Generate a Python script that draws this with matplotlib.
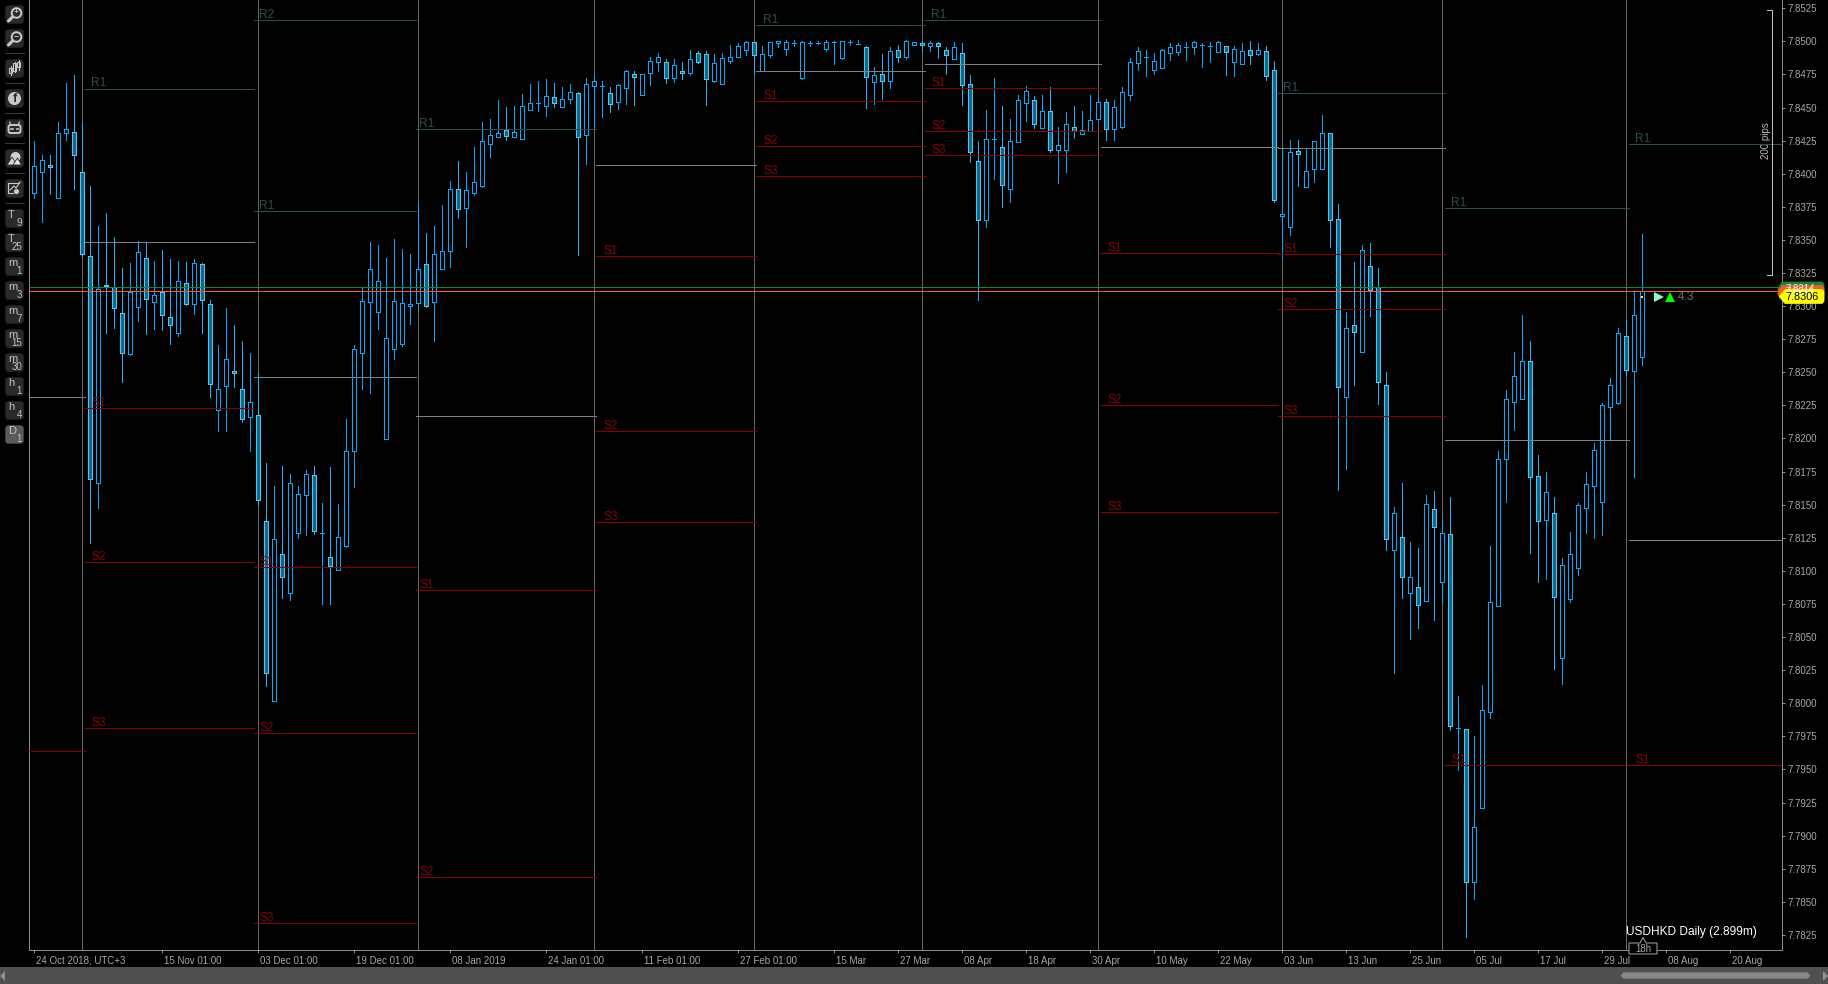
import matplotlib
matplotlib.use("Agg")
import matplotlib.pyplot as plt
from matplotlib.patches import Circle, FancyBboxPatch, Polygon, Rectangle
from matplotlib.transforms import ScaledTranslation

plt.rcParams["font.family"] = ["Liberation Sans", "DejaVu Sans"]

opens = [
    7.83852, 7.84010, 7.84063, 7.83813, 7.84305, 7.84318, 7.84015, 7.83381, 7.81661, 7.83162,
    7.83142, 7.82950, 7.82636, 7.82991, 7.83366, 7.83028, 7.83109, 7.82920, 7.82799, 7.83177,
    7.83014, 7.83321, 7.83019, 7.82213, 7.82394, 7.82512, 7.82376, 7.82160, 7.82180, 7.81380,
    7.80015, 7.81130, 7.80831, 7.81284, 7.81571, 7.81722, 7.81289, 7.81108, 7.81004, 7.81191,
    7.81903, 7.82648, 7.83028, 7.82953, 7.81994, 7.82678, 7.82716, 7.82998, 7.83021, 7.83321,
    7.83028, 7.83283, 7.83414, 7.83882, 7.83739, 7.83857, 7.83904, 7.84222, 7.84275, 7.84330,
    7.84275, 7.84260, 7.84479, 7.84532, 7.84509, 7.84582, 7.84501, 7.84562, 7.84612, 7.84290,
    7.84660, 7.84660, 7.84612, 7.84539, 7.84645, 7.84756, 7.84597, 7.84758, 7.84841, 7.84841,
    7.84720, 7.84773, 7.84758, 7.84909, 7.84902, 7.84698, 7.84675, 7.84849, 7.84879, 7.84932,
    7.84992, 7.84776, 7.84894, 7.84985, 7.84939, 7.84987, 7.84720, 7.84987, 7.84985, 7.84939,
    7.84992, 7.84871, 7.84992, 7.84982, 7.84955, 7.84695, 7.84751, 7.84698, 7.84932, 7.84879,
    7.84970, 7.84985, 7.84962, 7.84985, 7.84932, 7.84869, 7.84909, 7.84675, 7.84093, 7.83653,
    7.84260, 7.84199, 7.83882, 7.84242, 7.84532, 7.84554, 7.84348, 7.84471, 7.84182, 7.84182,
    7.84355, 7.84302, 7.84320, 7.84411, 7.84539, 7.84335, 7.84355, 7.84592, 7.84834, 7.84879,
    7.84781, 7.84801, 7.84909, 7.84922, 7.84955, 7.84955, 7.84972, 7.84962, 7.84922, 7.84962,
    7.84846, 7.84831, 7.84932, 7.84902, 7.84924, 7.84781, 7.83678, 7.83595, 7.84169, 7.83902,
    7.84033, 7.84038, 7.84305, 7.83655, 7.82316, 7.82855, 7.82656, 7.83300, 7.83142, 7.82402,
    7.81155, 7.81254, 7.80831, 7.80876, 7.80770, 7.81465, 7.80914, 7.81276, 7.79811, 7.79803,
    7.78653, 7.79212, 7.79932, 7.80738, 7.81843, 7.82278, 7.82301, 7.82583, 7.81714, 7.81382,
    7.81435, 7.80340, 7.80791, 7.81020, 7.81478, 7.81639, 7.81523, 7.82241, 7.82271, 7.82772,
    7.82512, 7.82618,
]
highs = [
    7.84247, 7.84141, 7.84141, 7.84388, 7.84682, 7.84745, 7.84381, 7.83907, 7.83605, 7.83701,
    7.83519, 7.83288, 7.83326, 7.83489, 7.83477, 7.83341, 7.83424, 7.83356, 7.83341, 7.83333,
    7.83356, 7.83323, 7.83046, 7.82706, 7.82986, 7.82857, 7.82737, 7.82646, 7.82492, 7.81815,
    7.81644, 7.81792, 7.81732, 7.81641, 7.81762, 7.81792, 7.81513, 7.81785, 7.81505, 7.82147,
    7.82706, 7.83142, 7.83482, 7.83459, 7.83363, 7.83507, 7.83431, 7.83394, 7.83786, 7.83552,
    7.83605, 7.83764, 7.83942, 7.84096, 7.84013, 7.84202, 7.84391, 7.84413, 7.84557, 7.84504,
    7.84511, 7.84602, 7.84678, 7.84700, 7.84715, 7.84685, 7.84655, 7.84678, 7.84615, 7.84723,
    7.84753, 7.84700, 7.84652, 7.84675, 7.84783, 7.84776, 7.84753, 7.84882, 7.84912, 7.84864,
    7.84864, 7.84844, 7.84934, 7.84924, 7.84924, 7.84904, 7.84912, 7.84970, 7.84987, 7.85000,
    7.84992, 7.84962, 7.84995, 7.85000, 7.85010, 7.85007, 7.85000, 7.85002, 7.85000, 7.85007,
    7.85000, 7.85000, 7.85010, 7.85007, 7.84962, 7.84806, 7.84904, 7.84955, 7.84970, 7.85007,
    7.84992, 7.85000, 7.85000, 7.84992, 7.84955, 7.84995, 7.84987, 7.84745, 7.84247, 7.84481,
    7.84723, 7.84511, 7.84413, 7.84595, 7.84662, 7.84584, 7.84595, 7.84655, 7.84353, 7.84466,
    7.84511, 7.84474, 7.84595, 7.84572, 7.84564, 7.84557, 7.84655, 7.84874, 7.84957, 7.84934,
    7.84912, 7.84939, 7.84987, 7.84987, 7.84992, 7.85000, 7.84987, 7.84992, 7.85000, 7.84962,
    7.84962, 7.84987, 7.85000, 7.84987, 7.84962, 7.84851, 7.84187, 7.84255, 7.84255, 7.84189,
    7.84245, 7.84443, 7.84305, 7.83771, 7.82956, 7.83333, 7.83462, 7.83477, 7.83288, 7.82502,
    7.81480, 7.81661, 7.81218, 7.81171, 7.81573, 7.81604, 7.81392, 7.81558, 7.80055, 7.79803,
    7.79753, 7.80138, 7.81188, 7.81903, 7.82367, 7.82651, 7.82930, 7.82737, 7.81873, 7.81745,
    7.81556, 7.81095, 7.81294, 7.81510, 7.81747, 7.81964, 7.82266, 7.82457, 7.82832, 7.82895,
    7.83114, 7.83545,
]
lows = [
    7.83819, 7.83637, 7.83849, 7.83813, 7.84257, 7.83887, 7.83368, 7.81214, 7.81478, 7.82799,
    7.82835, 7.82429, 7.82633, 7.82888, 7.82792, 7.82827, 7.82820, 7.82716, 7.82777, 7.83011,
    7.82943, 7.82799, 7.82316, 7.82059, 7.82059, 7.82391, 7.82127, 7.81908, 7.81500, 7.80133,
    7.80015, 7.80798, 7.80783, 7.81251, 7.81274, 7.81281, 7.80753, 7.80753, 7.81004, 7.81183,
    7.81636, 7.82374, 7.82346, 7.82827, 7.81994, 7.82603, 7.82701, 7.82865, 7.82971, 7.82996,
    7.82737, 7.83283, 7.83298, 7.83666, 7.83447, 7.83839, 7.83902, 7.84129, 7.84275, 7.84257,
    7.84275, 7.84260, 7.84479, 7.84474, 7.84436, 7.84506, 7.84501, 7.84537, 7.83386, 7.84076,
    7.84343, 7.84428, 7.84469, 7.84489, 7.84527, 7.84519, 7.84597, 7.84670, 7.84776, 7.84685,
    7.84695, 7.84715, 7.84745, 7.84836, 7.84519, 7.84695, 7.84675, 7.84834, 7.84879, 7.84897,
    7.84753, 7.84773, 7.84879, 7.84957, 7.84897, 7.84965, 7.84718, 7.84965, 7.84980, 7.84927,
    7.84829, 7.84864, 7.84970, 7.84980, 7.84499, 7.84529, 7.84564, 7.84647, 7.84844, 7.84864,
    7.84970, 7.84927, 7.84927, 7.84874, 7.84753, 7.84866, 7.84519, 7.84088, 7.83046, 7.83598,
    7.83960, 7.83749, 7.83786, 7.84242, 7.84398, 7.84345, 7.84348, 7.84167, 7.83930, 7.84013,
    7.84270, 7.84302, 7.84320, 7.84411, 7.84255, 7.84255, 7.84345, 7.84557, 7.84783, 7.84738,
    7.84753, 7.84798, 7.84859, 7.84897, 7.84859, 7.84904, 7.84806, 7.84844, 7.84922, 7.84745,
    7.84738, 7.84829, 7.84829, 7.84897, 7.84705, 7.83784, 7.83366, 7.83540, 7.83907, 7.83902,
    7.83940, 7.84038, 7.83449, 7.81611, 7.81770, 7.82404, 7.82656, 7.82925, 7.82261, 7.81158,
    7.80231, 7.80795, 7.80486, 7.80569, 7.80770, 7.80629, 7.80755, 7.79798, 7.79496, 7.78238,
    7.78522, 7.79212, 7.79892, 7.80738, 7.81523, 7.82064, 7.82301, 7.81138, 7.80919, 7.80941,
    7.80262, 7.80148, 7.80768, 7.80972, 7.81289, 7.81251, 7.81274, 7.81986, 7.82263, 7.82480,
    7.81712, 7.82558,
]
closes = [
    7.84061, 7.84106, 7.84048, 7.84310, 7.84340, 7.84139, 7.83391, 7.81691, 7.83132, 7.83154,
    7.82983, 7.82648, 7.83109, 7.83411, 7.83051, 7.83086, 7.82930, 7.82855, 7.83192, 7.83019,
    7.83328, 7.83044, 7.82409, 7.82376, 7.82603, 7.82492, 7.82145, 7.82278, 7.81533, 7.80226,
    7.81244, 7.80951, 7.81661, 7.81583, 7.81729, 7.81299, 7.81289, 7.81040, 7.81259, 7.81908,
    7.82678, 7.83041, 7.83283, 7.83192, 7.82762, 7.83041, 7.83026, 7.83014, 7.83283, 7.82998,
    7.83396, 7.83419, 7.83887, 7.83736, 7.83875, 7.83940, 7.84245, 7.84290, 7.84305, 7.84282,
    7.84313, 7.84509, 7.84537, 7.84532, 7.84589, 7.84532, 7.84567, 7.84620, 7.84275, 7.84675,
    7.84698, 7.84660, 7.84524, 7.84672, 7.84773, 7.84728, 7.84751, 7.84849, 7.84879, 7.84720,
    7.84819, 7.84758, 7.84864, 7.84846, 7.84713, 7.84834, 7.84871, 7.84879, 7.84962, 7.84992,
    7.84894, 7.84902, 7.84992, 7.85000, 7.84992, 7.84987, 7.84992, 7.84987, 7.84985, 7.84992,
    7.84992, 7.85000, 7.84992, 7.84982, 7.84728, 7.84743, 7.84698, 7.84929, 7.84879, 7.85000,
    7.84992, 7.84970, 7.84985, 7.84962, 7.84894, 7.84955, 7.84673, 7.84167, 7.83653, 7.84260,
    7.84260, 7.83912, 7.84245, 7.84554, 7.84622, 7.84378, 7.84471, 7.84182, 7.84219, 7.84373,
    7.84323, 7.84333, 7.84403, 7.84539, 7.84335, 7.84501, 7.84615, 7.84841, 7.84924, 7.84879,
    7.84849, 7.84932, 7.84955, 7.84970, 7.84955, 7.84992, 7.84972, 7.84962, 7.84992, 7.84922,
    7.84939, 7.84924, 7.84894, 7.84932, 7.84740, 7.83799, 7.83693, 7.84161, 7.84151, 7.84018,
    7.84245, 7.84305, 7.83653, 7.82391, 7.82832, 7.82807, 7.83421, 7.83122, 7.82429, 7.81244,
    7.81435, 7.80957, 7.80951, 7.80740, 7.81503, 7.81329, 7.81284, 7.79826, 7.79811, 7.78653,
    7.79068, 7.79952, 7.80768, 7.81843, 7.82296, 7.82470, 7.82583, 7.81712, 7.81380, 7.81593,
    7.80800, 7.81042, 7.81125, 7.81495, 7.81654, 7.81911, 7.82251, 7.82402, 7.82794, 7.82520,
    7.82930, 7.83114,
]

# pivot periods: bar position of each edge, then one value per period (None = no line drawn)
period_edges = [-0.63, 6.33, 27.46, 47.7, 70.2, 90.2, 111.3, 133.3, 155.5, 176.3, 199.3, 218.3]
label_bars = [None, 7, 28, 48, 71, 91, 112, 134, 156, 177, 200]
level_r2 = [None, None, 7.85158, None, None, None, None, None, None, None, None]
level_r1 = [None, 7.84642, 7.83716, 7.84335, None, 7.85121, 7.85158, None, 7.84607, 7.83738, 7.84222]
level_p = [7.82316, 7.83482, 7.82462, 7.82173, 7.84063, 7.84773, 7.84826, 7.84199, 7.84192, 7.81989, 7.81231]
level_s1 = [None, 7.82228, 7.81027, 7.80853, 7.83376, 7.84547, 7.84645, 7.83399, 7.83391, 7.79532, 7.79532]
level_s2 = [7.79637, 7.81065, 7.79773, 7.78686, 7.82054, 7.84207, 7.84320, 7.82251, 7.82976, None, None]
level_s3 = [None, 7.79811, 7.78339, None, 7.81367, 7.83980, 7.84139, 7.81442, 7.82168, None, None]
separator_bars = [6, 28, 48, 70, 90, 111, 133, 156, 176, 199]

ask_line = 7.83144
bid_line = 7.83114
last_price = 7.83071
pips_top = 7.85235
pips_bottom = 7.83235

tick_bars = [0, 16, 28, 40, 52, 64, 76, 88, 100, 108, 116, 124, 132, 140, 148, 156, 164, 172, 180, 188, 196, 204, 212]
tick_dates = [
    "24 Oct 2018, UTC+3", "15 Nov 01:00", "03 Dec 01:00", "19 Dec 01:00", "08 Jan 2019", "24 Jan 01:00",
    "11 Feb 01:00", "27 Feb 01:00", "15 Mar", "27 Mar", "08 Apr", "18 Apr", "30 Apr", "10 May", "22 May",
    "03 Jun", "13 Jun", "25 Jun", "05 Jul", "17 Jul", "29 Jul", "08 Aug", "20 Aug",
]
price_ticks = [7.7825 + 0.0025 * k for k in range(29)]
tool_buttons = [("T", "9"), ("T", "25"), ("m", "1"), ("m", "3"), ("m", "7"), ("m", "15"), ("m", "30"),
                ("h", "1"), ("h", "4"), ("D", "1")]

WIDTH, HEIGHT = 1828, 984
LEFT, RIGHT, BOTTOM = 29.3, 1782.3, 950.3
HOLLOW_EDGE = "#00aaff"
FILL_EDGE = "#55c4ee"
FILL_FACE = "#0b6a90"
AXIS_GRAY = "#a8a8a8"
R_COLOR = "#2f4f4f"
S_COLOR = "#8b0000"
THIN = 0.6

fig = plt.figure(figsize=(WIDTH / 100, HEIGHT / 100), dpi=100, facecolor="black")
ax = fig.add_axes([LEFT / WIDTH, (HEIGHT - BOTTOM) / HEIGHT, (RIGHT - LEFT) / WIDTH, BOTTOM / HEIGHT])
ax.set_facecolor("black")
ax.set_xlim(-0.63, 218.5)
ax.set_ylim(7.78134, 7.85312)

for bar in separator_bars:
    ax.axvline(bar, color="#666666", lw=THIN, zorder=1, antialiased=False)

# candles
for i in range(len(opens)):
    is_down = closes[i] < opens[i]
    edge = FILL_EDGE if is_down else HOLLOW_EDGE
    top = max(opens[i], closes[i])
    bottom = min(opens[i], closes[i])
    ax.vlines(i, lows[i], highs[i], color="#22b4f8" if is_down else HOLLOW_EDGE, lw=THIN, zorder=2, antialiased=False)
    ax.add_patch(Rectangle((i - 0.25, bottom), 0.5, top - bottom, facecolor=FILL_FACE if is_down else "black",
                           edgecolor=edge, lw=THIN, zorder=3, antialiased=False))

# pivot levels
for levels, name, color in [
    (level_r2, "R2", R_COLOR), (level_r1, "R1", R_COLOR), (level_p, "", "#808080"),
    (level_s1, "S1", S_COLOR), (level_s2, "S2", S_COLOR), (level_s3, "S3", S_COLOR),
]:
    for k, value in enumerate(levels):
        if value is None:
            continue
        ax.hlines(value, period_edges[k], period_edges[k + 1], color=color, lw=THIN, zorder=4, antialiased=False)
        if name and label_bars[k] is not None:
            ax.annotate(name, (label_bars[k], value), xytext=(0.7, 1.6), textcoords="offset points",
                        color=color, fontsize=8.6, va="baseline", ha="left", zorder=4)

ax.axhline(ask_line, color="#0a8a3c", lw=THIN, zorder=5, antialiased=False)
ax.axhline(bid_line, color="#ff5a1e", lw=THIN, zorder=5, antialiased=False)

# 200 pips bracket
ax.plot([216.6, 217.17, 217.17, 216.6], [pips_top, pips_top, pips_bottom, pips_bottom], color="#c0c0c0", lw=THIN,
        zorder=5, antialiased=False)
ax.text(216.45, 7.8425, "200 pips", rotation=90, color="#b8b8b8", fontsize=7, ha="center", va="center")

# last price mark
ax.plot([201], [last_price], marker="s", ms=2, color="#ffff00", mew=0, zorder=6, ls="none")
ax.plot([203.1], [last_price], marker=">", ms=6.5, color="#7fffd4", mew=0, zorder=6, ls="none")
ax.plot([204.4], [last_price], marker="^", ms=6.5, color="#00ff00", mew=0, zorder=6, ls="none")
ax.text(205.45, last_price, "4.3", color="#707070", fontsize=8.6, ha="left", va="center")

ax.yaxis.tick_right()
ax.set_yticks(price_ticks)
ax.set_yticklabels([f"{p:.4f}" for p in price_ticks])
ax.set_xticks(tick_bars)
ax.set_xticklabels(tick_dates, ha="left")
ax.tick_params(axis="both", colors=AXIS_GRAY, labelsize=7, length=2.2, width=THIN)
ax.tick_params(axis="x", pad=1.8)
ax.tick_params(axis="y", pad=1.2)
# date labels sit a little to the right of their tick
for label in ax.get_xticklabels():
    label.set_transform(label.get_transform() + ScaledTranslation(1.0 / 72, 0, fig.dpi_scale_trans))
ax.spines["top"].set_visible(False)
for side in ["left", "right", "bottom"]:
    ax.spines[side].set_color(AXIS_GRAY)
    ax.spines[side].set_linewidth(THIN)

# window furniture, drawn in pixel coordinates on top of the chart
ui = fig.add_axes([0, 0, 1, 1], zorder=10)
ui.set_xlim(0, WIDTH)
ui.set_ylim(HEIGHT, 0)
ui.axis("off")
ui.patch.set_alpha(0)

ui.text(1625.7, 935, "USDHKD Daily (2.899m)", color="white", fontsize=8.6, ha="left", va="baseline")
ui.add_patch(Polygon([(1629, 943), (1640, 943), (1643, 937.5), (1646, 943), (1657, 943), (1657, 954), (1629, 954)],
                     facecolor="black", edgecolor=AXIS_GRAY, lw=0.7, joinstyle="round"))
ui.text(1643, 948.8, "18h", color=AXIS_GRAY, fontsize=7, ha="center", va="center")

# price flags
for top, color, flag_text in [(281, "#0a8a3c", "7.8314"), (284.5, "#ff5a1e", "7.8311")]:
    ui.add_patch(Polygon([(1778, top + 7), (1782, top + 1), (1822, top + 1), (1824, top + 3), (1824, top + 14),
                          (1782, top + 14), (1778, top + 10)], facecolor=color, edgecolor=color, lw=0.5))
    ui.text(1800, top + 7.5, flag_text, color="#f0f0f0", fontsize=7, ha="center", va="center")
ui.add_patch(Polygon([(1779, 296.5), (1785, 289.5), (1822, 289.5), (1824, 291.5), (1824, 301.5), (1822, 303.5),
                      (1785, 303.5)], facecolor="#ffff00", edgecolor="#ffff00", lw=0.5))
ui.text(1802, 296.8, "7.8306", color="black", fontsize=7.8, ha="center", va="center")

# scrollbar
ui.add_patch(Rectangle((0, 967), WIDTH, 17, facecolor="#505050", edgecolor="none"))
ui.add_patch(FancyBboxPatch((1622, 973), 187, 5, boxstyle="round,pad=0,rounding_size=3", mutation_aspect=1,
                            facecolor="#888888", edgecolor="#888888", lw=1))
ui.add_patch(Polygon([(0, 976), (5, 971), (5, 981)], facecolor="#909090", edgecolor="none"))
ui.add_patch(Polygon([(1828, 976), (1823, 971), (1823, 981)], facecolor="#909090", edgecolor="none"))


def draw_button(y, face="#2a2a2a"):
    ui.add_patch(FancyBboxPatch((6, y + 1), 17, 17, boxstyle="round,pad=0,rounding_size=2.5", facecolor=face,
                                edgecolor=face, lw=1))


# icon buttons
icon_tops = [5, 29, 59, 89, 119, 149, 179]
for y in icon_tops:
    draw_button(y)
for y, sign in [(5, "+"), (29, "\u2212")]:
    ui.add_patch(Circle((16.5, y + 8), 4.8, facecolor="#2a2a2a", edgecolor="#c8c8c8", lw=1.4))
    ui.plot([12.5, 8.5], [y + 12, y + 16], color="#c8c8c8", lw=2.2, solid_capstyle="round")
    ui.text(16.5, y + 7.8, sign, color="#c8c8c8", fontsize=6, ha="center", va="center", weight="bold")
for x, y0, y1, top, bot in [(10.5, 66, 75, 68, 73), (14.5, 62, 72, 63, 71), (18.5, 60, 70, 62, 67)]:
    ui.plot([x, x], [y0, y1], color="#c8c8c8", lw=0.8)
    ui.add_patch(Rectangle((x - 1.5, top), 3, bot - top, facecolor="#2a2a2a", edgecolor="#c8c8c8", lw=0.8))
ui.add_patch(Circle((14.5, 98.5), 6.5, facecolor="#c8c8c8", edgecolor="none"))
ui.text(15, 99.5, "f", color="#2a2a2a", fontsize=9, ha="center", va="center", weight="bold")
ui.add_patch(FancyBboxPatch((8.5, 125), 12, 8, boxstyle="round,pad=0,rounding_size=2", facecolor="#2a2a2a",
                            edgecolor="#c8c8c8", lw=1.4))
ui.plot([11, 9.5], [125, 122], color="#c8c8c8", lw=0.8)
ui.plot([18, 19.5], [125, 122], color="#c8c8c8", lw=0.8)
ui.plot([11, 12.5], [129, 129], color="#c8c8c8", lw=1.2)
ui.plot([16.5, 18], [129, 129], color="#c8c8c8", lw=1.2)
ui.add_patch(Circle((15.5, 157), 5, facecolor="#d0d0d0", edgecolor="none"))
ui.add_patch(Polygon([(7, 165), (12, 157), (17, 165)], facecolor="#d8d8d8", edgecolor="#2a2a2a", lw=0.6))
ui.add_patch(Polygon([(13, 165), (17.5, 158), (21.5, 165)], facecolor="#e8e8e8", edgecolor="#2a2a2a", lw=0.6))
ui.plot([19, 8, 8, 13], [183, 183, 193, 193], color="#c8c8c8", lw=0.8)
ui.plot([10, 14, 16, 20], [190, 186, 188, 182], color="#c8c8c8", lw=0.8)
ui.add_patch(Circle((16.5, 191.5), 2.6, facecolor="#c8c8c8", edgecolor="none"))

for y in [53, 83, 113, 143, 173, 203]:
    ui.plot([5, 24], [y, y], color="#3c3c3c", lw=0.7)

# timeframe buttons
for k, (letter, number) in enumerate(tool_buttons):
    y = 209 + 24 * k
    draw_button(y, "#5a5a5a" if k == len(tool_buttons) - 1 else "#2a2a2a")
    ui.text(8, y + 6.5, letter, color="#c4c4c4", fontsize=8, ha="left", va="center")
    ui.text(22, y + 14, number, color="#c4c4c4", fontsize=7, ha="right", va="center")

fig.savefig("out.png", dpi=100, facecolor="black")
